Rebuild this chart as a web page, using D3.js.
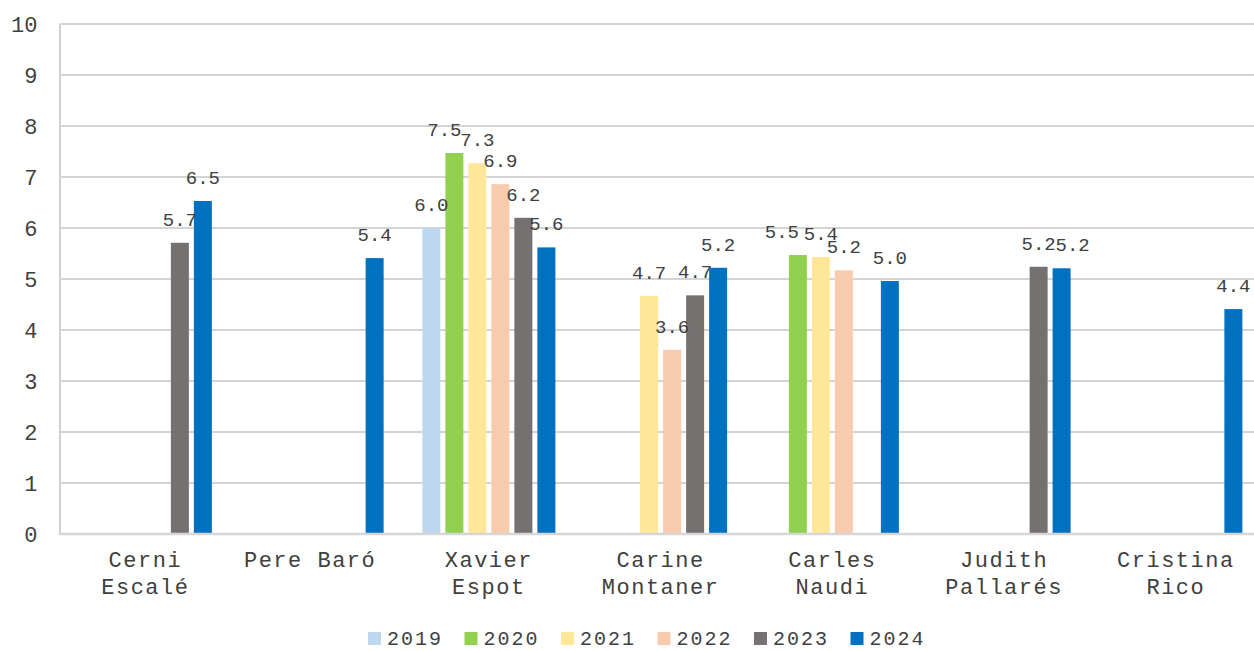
<!DOCTYPE html>
<html><head><meta charset="utf-8">
<script src="https://cdn.jsdelivr.net/npm/d3@7"></script>
<style>
html,body{margin:0;padding:0;background:#fff;}
svg{display:block;}
text{font-family:"Liberation Mono","Courier New",monospace;fill:#404040;}
</style></head>
<body>
<svg id="chart" width="1254" height="651"></svg>
<script>
const categories = [["Cerni","Escalé"],["Pere Baró"],["Xavier","Espot"],["Carine","Montaner"],["Carles","Naudi"],["Judith","Pallarés"],["Cristina","Rico"]];
const years = ["2019","2020","2021","2022","2023","2024"];
const colors = ["#BDD7EE","#92D050","#FFE699","#F8CBAD","#767171","#0070C0"];
const v2019 = [null,null,6.0,null,null,null,null];
const v2020 = [null,null,7.47,null,5.47,null,null];
const v2021 = [null,null,7.27,4.67,5.43,null,null];
const v2022 = [null,null,6.86,3.61,5.17,null,null];
const v2023 = [5.71,null,6.2,4.68,null,5.24,null];
const v2024 = [6.53,5.41,5.62,5.22,4.96,5.21,4.41];
const yTicks = [0,1,2,3,4,5,6,7,8,9,10];

const series = [v2019,v2020,v2021,v2022,v2023,v2024];
const catKeys = categories.map(c=>c.join(" "));

const svg = d3.select("#chart");
const mLeft = 59.5, gStep = 171.75, mTop = 24, mBottom = 534;
const x0 = d3.scaleBand().domain(catKeys).range([mLeft, mLeft + gStep*catKeys.length]).padding(0);
const bw = x0.bandwidth();
const x1 = d3.scaleBand().domain(years).range([(bw-133)/2,(bw+133)/2]).paddingInner(5/23).paddingOuter(0);
const y = d3.scaleLinear().domain([0,10]).range([mBottom, mTop]);

// gridlines
svg.append("g").selectAll("line").data(yTicks.filter(t=>t>0)).join("line")
  .attr("x1", mLeft).attr("x2", 1254)
  .attr("y1", d=>y(d)).attr("y2", d=>y(d))
  .attr("stroke","#c6c6c6").attr("stroke-width",1.5);

// y axis labels
const yAxis = d3.axisLeft(y).tickValues(yTicks).tickSize(0).tickPadding(22).tickFormat(d3.format("d"));
const gy = svg.append("g").attr("transform",`translate(${mLeft},0)`).call(yAxis);
gy.select(".domain").attr("stroke","#d0d0d0").attr("stroke-width",2);
gy.selectAll("text").style("font-size","22px").style("font-family",'"Liberation Mono","Courier New",monospace').attr("fill","#404040");

// bars
const flat = [];
catKeys.forEach((c,i)=>{
  years.forEach((yr,j)=>{
    const v = series[j][i];
    if (v!=null) flat.push({c, yr, v, j});
  });
});
const g = svg.append("g");
g.selectAll("rect").data(flat).join("rect")
  .attr("x", d=>x0(d.c)+x1(d.yr))
  .attr("width", x1.bandwidth())
  .attr("y", d=>y(d.v))
  .attr("height", d=>y(0)-y(d.v))
  .attr("fill", d=>colors[d.j]);

// x axis line
svg.append("line").attr("x1",mLeft-1).attr("x2",1254).attr("y1",mBottom).attr("y2",mBottom)
  .attr("stroke","#d6d6d6").attr("stroke-width",2.5);

// overlap nudges for data labels (like the spreadsheet's label placement)
function nudge(d){
  if (d.c==="Xavier Espot" && d.yr==="2020") return -10;
  if (d.c==="Carles Naudi" && d.yr==="2020") return -16;
  if (d.c==="Judith Pallarés" && d.yr==="2024") return 11;
  return 0;
}
g.selectAll("text.lbl").data(flat).join("text").attr("class","lbl")
  .attr("x", d=>x0(d.c)+x1(d.yr)+x1.bandwidth()/2 + nudge(d))
  .attr("y", d=>y(d.v)-17)
  .attr("text-anchor","middle")
  .style("font-size","19px")
  .text(d=>d3.format(".1f")(d.v));

// category labels
const cg = svg.append("g");
categories.forEach((c,i)=>{
  const cx = x0(catKeys[i])+bw/2 - (c.length===1 ? 7 : 0);
  const t = cg.append("text").attr("text-anchor","middle")
    .attr("x", cx).attr("y", 567)
    .style("font-size","22px").style("letter-spacing","1.5px");
  c.forEach((line,k)=>{
    t.append("tspan").attr("x", cx).attr("dy", k===0?0:27).text(line);
  });
});

// legend
const lg = svg.append("g");
const lx = 368, lstep = 96.5;
years.forEach((yr,j)=>{
  lg.append("rect").attr("x", lx+j*lstep).attr("y", 632).attr("width",13).attr("height",13).attr("fill",colors[j]);
  lg.append("text").attr("x", lx+j*lstep+19).attr("y", 645).style("font-size","20px").style("letter-spacing","2px").text(yr);
});
</script>
</body></html>
